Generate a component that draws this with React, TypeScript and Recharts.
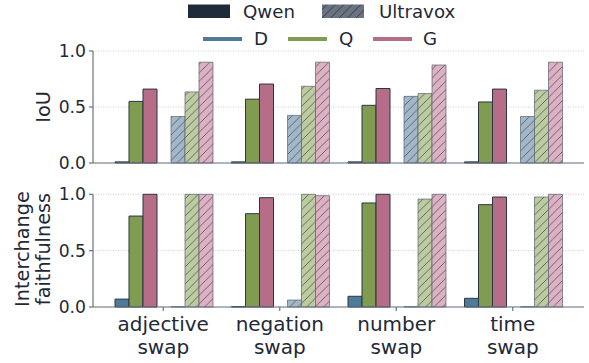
import React from 'react';
import { BarChart, Bar, XAxis, YAxis, CartesianGrid } from 'recharts';

const categories = ['adjective swap', 'negation swap', 'number swap', 'time swap'];

// IoU panel
const iouQwenD = [0.01, 0.01, 0.01, 0.01];
const iouQwenQ = [0.55, 0.57, 0.515, 0.545];
const iouQwenG = [0.66, 0.705, 0.665, 0.66];
const iouUltraD = [0.415, 0.425, 0.595, 0.415];
const iouUltraQ = [0.635, 0.685, 0.62, 0.65];
const iouUltraG = [0.9, 0.9, 0.875, 0.9];

// Interchange faithfulness panel
const faithQwenD = [0.07, 0.003, 0.095, 0.077];
const faithQwenQ = [0.807, 0.828, 0.923, 0.908];
const faithQwenG = [1.0, 0.97, 1.0, 0.976];
const faithUltraD = [0.003, 0.062, 0.003, 0.003];
const faithUltraQ = [1.0, 1.0, 0.958, 0.976];
const faithUltraG = [1.0, 0.988, 1.0, 1.0];

const yTicks = [0, 0.5, 1.0];

const FONT = 'DejaVu Sans, sans-serif';
const TEXT = '#1f2937';
const SPINE = '#6b7280';
const COLORS = { D: '#4f7b9b', Q: '#809c50', G: '#b56d88' };
const LIGHT = { D: '#a2b8c9', Q: '#bdcc9e', G: '#ddb0c2' };

const build = (qd, qq, qg, ud, uq, ug) =>
  categories.map((c, i) => ({
    name: c,
    qd: qd[i],
    qq: qq[i],
    qg: qg[i],
    ud: ud[i],
    uq: uq[i],
    ug: ug[i],
  }));

const iouData = build(iouQwenD, iouQwenQ, iouQwenG, iouUltraD, iouUltraQ, iouUltraG);
const faithData = build(faithQwenD, faithQwenQ, faithQwenG, faithUltraD, faithUltraQ, faithUltraG);

function Hatches({ id }: { id: string }) {
  return (
    <defs>
      {(['D', 'Q', 'G'] as const).map((k) => (
        <pattern key={k} id={`${id}-${k}`} patternUnits="userSpaceOnUse" width={8.5} height={8.5}>
          <rect width={8.5} height={8.5} fill={LIGHT[k]} />
          <path d="M0,8.5 L8.5,0 M-1,1 L1,-1 M7.5,9.5 L9.5,7.5" stroke="#4a5160" strokeWidth={0.8} />
        </pattern>
      ))}
    </defs>
  );
}

const CatTick = (props: any) => {
  const { x, y, payload } = props;
  const [a, b] = String(payload.value).split(' ');
  return (
    <text x={x} y={y} textAnchor="middle" fontFamily={FONT} fontSize={20} fill={TEXT}>
      <tspan x={x} dy={18}>{a}</tspan>
      <tspan x={x} dy={23.3}>{b}</tspan>
    </text>
  );
};

function Panel({ data, id, height, top, showLabels }: any) {
  const xHeight = showLabels ? 56 : 12;
  return (
    <BarChart
      width={589}
      height={height}
      data={data}
      margin={{ top, right: 5, left: 0, bottom: 0 }}
      barCategoryGap={10}
      barGap={0}
    >
      <Hatches id={id} />
      <CartesianGrid vertical={false} stroke="#c8ccd2" strokeDasharray="1 1.5" />
      <XAxis
        dataKey="name"
        height={xHeight}
        padding={{ left: 12, right: 13 }}
        stroke={SPINE}
        strokeWidth={1.2}
        tickSize={4}
        tickLine={{ stroke: SPINE }}
        tick={showLabels ? <CatTick /> : false}
        interval={0}
      />
      <YAxis
        width={93}
        domain={[0, 1]}
        ticks={yTicks}
        stroke={SPINE}
        strokeWidth={1.2}
        tickSize={4}
        tickMargin={3}
        tickFormatter={(v: number) => v.toFixed(1)}
        tick={{ fill: TEXT, fontFamily: FONT, fontSize: 17.2 }}
      />
      <Bar dataKey="qd" fill={COLORS.D} stroke="#2b3544" strokeWidth={1} isAnimationActive={false} />
      <Bar dataKey="qq" fill={COLORS.Q} stroke="#2b3544" strokeWidth={1} isAnimationActive={false} />
      <Bar dataKey="qg" fill={COLORS.G} stroke="#2b3544" strokeWidth={1} isAnimationActive={false} />
      <Bar dataKey="spacer" isAnimationActive={false} legendType="none" />
      <Bar dataKey="ud" fill={`url(#${id}-D)`} stroke="#5b6270" strokeOpacity={0.7} strokeWidth={1} isAnimationActive={false} />
      <Bar dataKey="uq" fill={`url(#${id}-Q)`} stroke="#5b6270" strokeOpacity={0.7} strokeWidth={1} isAnimationActive={false} />
      <Bar dataKey="ug" fill={`url(#${id}-G)`} stroke="#5b6270" strokeOpacity={0.7} strokeWidth={1} isAnimationActive={false} />
    </BarChart>
  );
}

function Overlay() {
  const t = { fontFamily: FONT, fontSize: 18.2, fill: TEXT };
  const yl = { fontFamily: FONT, fontSize: 19.3, fill: TEXT };
  return (
    <svg width={589} height={363} style={{ position: 'absolute', left: 0, top: 0, pointerEvents: 'none' }}>
      <defs>
        <pattern id="leg-hatch" patternUnits="userSpaceOnUse" width={8.5} height={8.5}>
          <rect width={8.5} height={8.5} fill="#6b7280" />
          <path d="M0,8.5 L8.5,0 M-1,1 L1,-1 M7.5,9.5 L9.5,7.5" stroke="#2b3544" strokeWidth={0.9} />
        </pattern>
      </defs>
      <rect x={188} y={4.5} width={42} height={13.5} fill="#1f2a3a" />
      <text x={243} y={18} {...t}>Qwen</text>
      <rect x={322} y={4.5} width={42} height={13.5} fill="url(#leg-hatch)" />
      <text x={379} y={18} {...t}>Ultravox</text>
      <line x1={203} x2={242} y1={39} y2={39} stroke={COLORS.D} strokeWidth={4} />
      <text x={254} y={45} {...t}>D</text>
      <line x1={288} x2={327} y1={39} y2={39} stroke={COLORS.Q} strokeWidth={4} />
      <text x={339} y={45} {...t}>Q</text>
      <line x1={373} x2={412} y1={39} y2={39} stroke={COLORS.G} strokeWidth={4} />
      <text x={423} y={45} {...t}>G</text>
      <text transform="translate(50,107) rotate(-90)" textAnchor="middle" {...yl}>IoU</text>
      <text transform="translate(29,249) rotate(-90)" textAnchor="middle" {...yl}>
        <tspan x={0} dy={0}>Interchange</tspan>
        <tspan x={0} dy={21}>faithfulness</tspan>
      </text>
    </svg>
  );
}

export default function App() {
  return (
    <div style={{ position: 'absolute', left: 0, top: 0, width: 589, height: 363, background: '#fff' }}>
      <div style={{ position: 'absolute', left: 0, top: 0 }}>
        <Panel data={iouData} id="iou" height={175} top={51} showLabels={false} />
      </div>
      <div style={{ position: 'absolute', left: 0, top: 180 }}>
        <Panel data={faithData} id="faith" height={183} top={14.3} showLabels={true} />
      </div>
      <Overlay />
    </div>
  );
}
